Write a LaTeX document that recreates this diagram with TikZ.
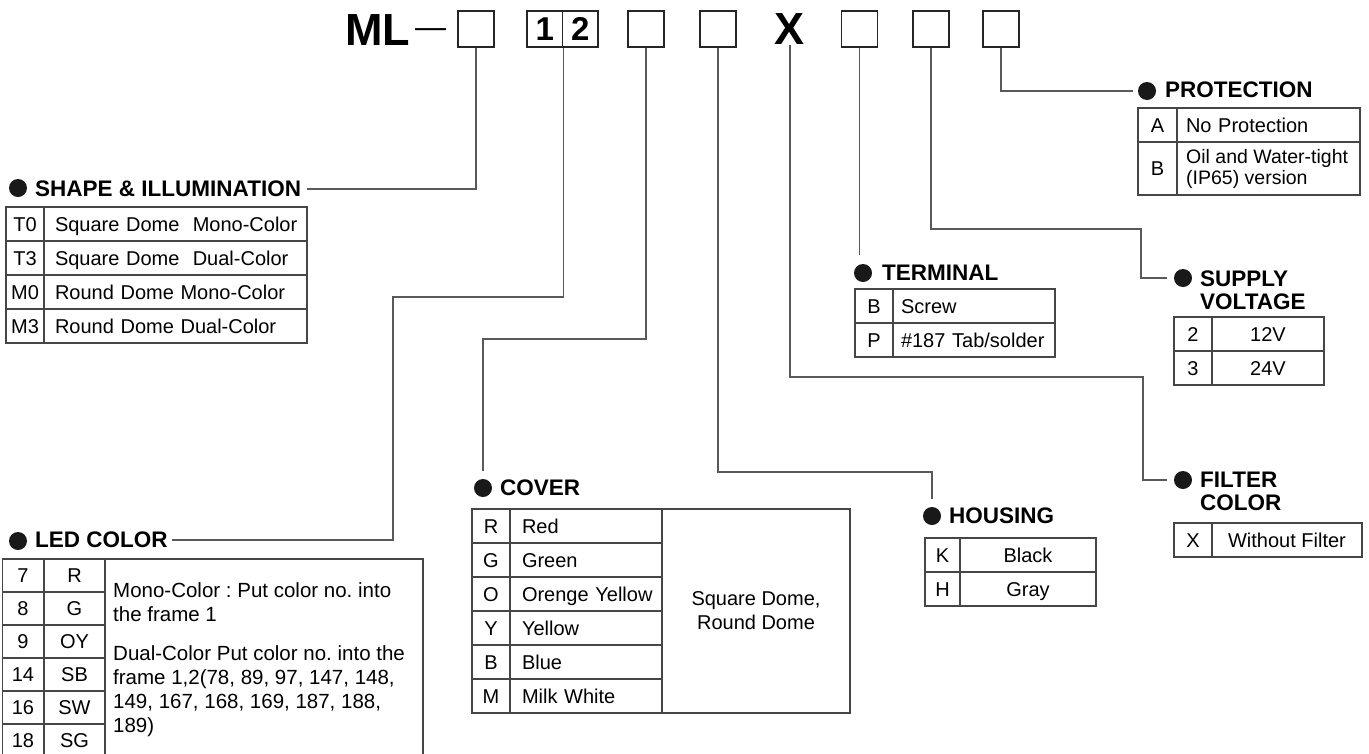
\documentclass[tikz,border=0pt]{standalone}
\usepackage{fontspec}
\setmainfont{Liberation Sans}
\frenchspacing
\begin{document}
\begin{tikzpicture}[x=1pt,y=-1pt]
	% Polices (MODIFIABLES)
	\def\PoliceCode{\fontsize{45}{45}\selectfont\bfseries}
	\def\PoliceCase{\fontsize{33}{33}\selectfont\bfseries}
	\def\PoliceTitre{\fontsize{22.5}{23}\selectfont\bfseries}
	\def\PoliceTableau{\fontsize{20}{21}\selectfont}
	\def\PoliceTexte{\fontsize{20.5}{24}\selectfont}
	% Styles (MODIFIABLES)
	\tikzstyle{trait}=[draw=gray!70!black,line width=1.2pt]
	\tikzstyle{case}=[draw=black!85,line width=1.5pt,minimum width=36pt,minimum height=36pt,inner sep=0pt,font=\PoliceCase]
	\tikzstyle{puce}=[circle,fill=black!90,minimum size=18pt,inner sep=0pt]
	\tikzstyle{titre}=[anchor=west,inner sep=0pt,font=\PoliceTitre,align=left]
	\tikzstyle{cellule}=[draw=gray!55!black,line width=1.2pt,inner sep=0pt,font=\PoliceTableau,text height=14.3pt,text depth=0pt]
	\tikzstyle{cellulegauche}=[cellule,align=left,execute at begin node={\hbox\bgroup},execute at end node={\egroup}]
	\tikzstyle{bloc}=[draw=gray!55!black,line width=1.2pt,inner sep=0pt,font=\PoliceTableau]
	\useasboundingbox (0,0) rectangle (1369,753);
	% Code
	\node[anchor=base west,inner sep=0pt,font=\PoliceCode] (code) at (345,45) {ML};
	\node[anchor=base,inner sep=0pt,font=\fontsize{31}{31}\selectfont] (tiret) at (430.5,37) {—};
	\node[case] (bForme) at (476,29) {};
	\node[case,minimum width=35.5pt] (bLedA) at (544.75,29) {1};
	\node[case,minimum width=35.5pt] (bLedB) at (580.25,29) {2};
	\node[case] (bCapot) at (646,29) {};
	\node[case] (bBoitier) at (718,29) {};
	\node[inner sep=0pt,font=\PoliceCode] (lFiltre) at (790,29) {X};
	\node[case] (bBorne) at (859.5,29) {};
	\node[case] (bTension) at (931,29) {};
	\node[case] (bProtection) at (1001,29) {};
	% Titres
	\node[puce] (pForme) at (18,188) {};
	\node[titre] (tForme) at (35,189) {SHAPE \& ILLUMINATION};
	\node[puce] (pLed) at (18,541) {};
	\node[titre] (tLed) at (35,540) {LED COLOR};
	\node[puce] (pCapot) at (483,488) {};
	\node[titre] (tCapot) at (500,488) {COVER};
	\node[puce] (pBoitier) at (932,516) {};
	\node[titre] (tBoitier) at (949,516) {HOUSING};
	\node[puce] (pBorne) at (863,273) {};
	\node[titre] (tBorne) at (882,273) {TERMINAL};
	\node[puce] (pTension) at (1183,278) {};
	\node[titre,anchor=north west] (tTension) at (1200,271) {SUPPLY\\VOLTAGE};
	\node[puce] (pFiltre) at (1183,480) {};
	\node[titre,anchor=north west] (tFiltre) at (1200,472) {FILTER\\COLOR};
	\node[puce] (pProtection) at (1147,91) {};
	\node[titre] (tProtection) at (1165,90) {PROTECTION};
	% Liaisons
	\coordinate (cLed) at (393,297);
	\coordinate (cCapot) at (483,339);
	\coordinate (cBoitier) at (932,472);
	\coordinate (cTension) at (1141,229);
	\coordinate (cFiltre) at (1143,377);
	\draw[trait,shorten >=6pt] (bForme.south) |- (tForme.east);
	\draw[trait,shorten >=4pt] (bLedA.south east) |- (cLed) |- (tLed.east);
	\draw[trait,shorten >=8pt] (bCapot.south) |- (cCapot) -- (pCapot.north);
	\draw[trait,shorten >=8pt] (bBoitier.south) |- (cBoitier) -- (pBoitier.north);
	\draw[trait,shorten >=9pt] (bBorne.south) -- (bBorne.south |- pBorne.north);
	\draw[trait,shorten >=7pt] (bTension.south) |- (cTension) |- (pTension.west);
	\draw[trait,shorten >=7pt] (lFiltre.south) |- (cFiltre) |- (pFiltre.west);
	\draw[trait,shorten >=5pt] (bProtection.south) |- (pProtection.west);
	% Tableau : forme
	\node[cellule,minimum width=38pt,minimum height=34pt] (f1) at (25,224) {T0};
	\node[cellulegauche,text width=241pt,inner xsep=11pt,minimum height=34pt] (f1t) at (175.5,224) {Square Dome~ Mono-Color};
	\node[cellule,minimum width=38pt,minimum height=34pt] (f2) at (25,258) {T3};
	\node[cellulegauche,text width=241pt,inner xsep=11pt,minimum height=34pt] (f2t) at (175.5,258) {Square Dome~ Dual-Color};
	\node[cellule,minimum width=38pt,minimum height=34pt] (f3) at (25,292) {M0};
	\node[cellulegauche,text width=241pt,inner xsep=11pt,minimum height=34pt] (f3t) at (175.5,292) {Round Dome Mono-Color};
	\node[cellule,minimum width=38pt,minimum height=34pt] (f4) at (25,326) {M3};
	\node[cellulegauche,text width=241pt,inner xsep=11pt,minimum height=34pt] (f4t) at (175.5,326) {Round Dome Dual-Color};
	% Tableau : couleur LED
	\node[cellule,minimum width=41pt,minimum height=33pt] (l1) at (23,575.5) {7};
	\node[cellule,minimum width=61pt,minimum height=33pt] (l1c) at (74.5,575.5) {R};
	\node[cellule,minimum width=41pt,minimum height=33pt] (l2) at (23,608.5) {8};
	\node[cellule,minimum width=61pt,minimum height=33pt] (l2c) at (74.5,608.5) {G};
	\node[cellule,minimum width=41pt,minimum height=33pt] (l3) at (23,641.5) {9};
	\node[cellule,minimum width=61pt,minimum height=33pt] (l3c) at (74.5,641.5) {OY};
	\node[cellule,minimum width=41pt,minimum height=33pt] (l4) at (23,674.5) {14};
	\node[cellule,minimum width=61pt,minimum height=33pt] (l4c) at (74.5,674.5) {SB};
	\node[cellule,minimum width=41pt,minimum height=33pt] (l5) at (23,707.5) {16};
	\node[cellule,minimum width=61pt,minimum height=33pt] (l5c) at (74.5,707.5) {SW};
	\node[cellule,minimum width=41pt,minimum height=33pt] (l6) at (23,740.5) {18};
	\node[cellule,minimum width=61pt,minimum height=33pt] (l6c) at (74.5,740.5) {SG};
	\node[bloc,minimum width=318pt,minimum height=198pt] (lDesc) at (264,658) {};
	\node[anchor=north west,inner sep=0pt,font=\PoliceTexte,align=left] (lMono) at (113,582.5) {Mono-Color : Put color no. into\\the frame 1};
	\node[anchor=north west,inner sep=0pt,font=\PoliceTexte,align=left] (lDual) at (113,645.5) {Dual-Color Put color no. into the\\frame 1,2(78, 89, 97, 147, 148,\\149, 167, 168, 169, 187, 188,\\189)};
	% Tableau : capot
	\node[cellule,minimum width=38pt,minimum height=34pt] (c1) at (491,526) {R};
	\node[cellulegauche,text width=128pt,inner xsep=12pt,minimum height=34pt] (c1t) at (586,526) {Red};
	\node[cellule,minimum width=38pt,minimum height=34pt] (c2) at (491,560) {G};
	\node[cellulegauche,text width=128pt,inner xsep=12pt,minimum height=34pt] (c2t) at (586,560) {Green};
	\node[cellule,minimum width=38pt,minimum height=34pt] (c3) at (491,594) {O};
	\node[cellulegauche,text width=128pt,inner xsep=12pt,minimum height=34pt] (c3t) at (586,594) {Orenge Yellow};
	\node[cellule,minimum width=38pt,minimum height=34pt] (c4) at (491,628) {Y};
	\node[cellulegauche,text width=128pt,inner xsep=12pt,minimum height=34pt] (c4t) at (586,628) {Yellow};
	\node[cellule,minimum width=38pt,minimum height=34pt] (c5) at (491,662) {B};
	\node[cellulegauche,text width=128pt,inner xsep=12pt,minimum height=34pt] (c5t) at (586,662) {Blue};
	\node[cellule,minimum width=38pt,minimum height=34pt] (c6) at (491,696) {M};
	\node[cellulegauche,text width=128pt,inner xsep=12pt,minimum height=34pt] (c6t) at (586,696) {Milk White};
	\node[bloc,align=center,font=\fontsize{20}{24}\selectfont,minimum width=188pt,minimum height=204pt] (cForme) at (756,611) {Square Dome,\\Round Dome};
	% Tableau : boitier
	\node[cellule,minimum width=35pt,minimum height=34pt] (h1) at (942.5,555) {K};
	\node[cellule,minimum width=136pt,minimum height=34pt] (h1t) at (1028,555) {Black};
	\node[cellule,minimum width=35pt,minimum height=34pt] (h2) at (942.5,589) {H};
	\node[cellule,minimum width=136pt,minimum height=34pt] (h2t) at (1028,589) {Gray};
	% Tableau : borne
	\node[cellule,minimum width=38pt,minimum height=34pt] (b1) at (874,306) {B};
	\node[cellulegauche,text width=146pt,inner xsep=8pt,minimum height=34pt] (b1t) at (974,306) {Screw};
	\node[cellule,minimum width=38pt,minimum height=34pt] (b2) at (874,340) {P};
	\node[cellulegauche,text width=146pt,inner xsep=8pt,minimum height=34pt] (b2t) at (974,340) {\#187 Tab/solder};
	% Tableau : tension
	\node[cellule,minimum width=38pt,minimum height=34pt] (v1) at (1193,334) {2};
	\node[cellule,minimum width=112pt,minimum height=34pt] (v1t) at (1268,334) {12V};
	\node[cellule,minimum width=38pt,minimum height=34pt] (v2) at (1193,368) {3};
	\node[cellule,minimum width=112pt,minimum height=34pt] (v2t) at (1268,368) {24V};
	% Tableau : filtre
	\node[cellule,minimum width=38pt,minimum height=34pt] (x1) at (1193,540) {X};
	\node[cellule,minimum width=150pt,minimum height=34pt] (x1t) at (1287,540) {Without Filter};
	% Tableau : protection
	\node[cellule,minimum width=39pt,minimum height=34pt] (r1) at (1157.5,125) {A};
	\node[cellulegauche,text width=165pt,inner xsep=9pt,minimum height=34pt] (r1t) at (1268.5,125) {No Protection};
	\node[cellule,minimum width=39pt,minimum height=53pt] (r2) at (1157.5,168.5) {B};
	\node[cellule,minimum width=183pt,minimum height=53pt] (r2t) at (1268.5,168.5) {};
	\node[anchor=west,inner sep=0pt,font=\fontsize{19.5}{21}\selectfont,align=left] (r2texte) at (1186,168.5) {Oil and Water-tight\\(IP65) version};
\end{tikzpicture}
\end{document}
